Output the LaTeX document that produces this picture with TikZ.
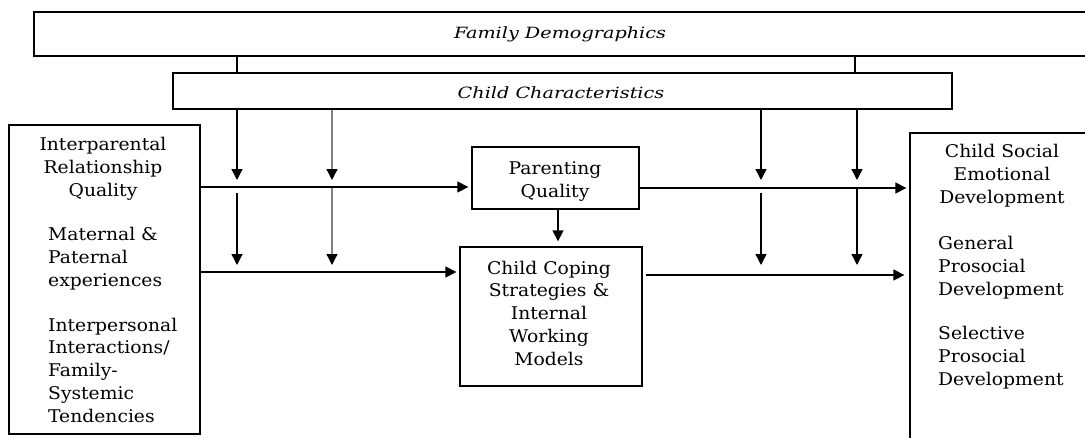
\documentclass[tikz,border=0pt]{standalone}
\usepackage{fontspec}
\setmainfont{DejaVu Serif}[FakeStretch=1.07]
\newfontfamily\wideit{DejaVu Serif}[FakeStretch=1.24]
\usetikzlibrary{arrows.meta}
\definecolor{lightline}{RGB}{128,128,128}
\begin{document}
\begin{tikzpicture}[x=1pt,y=-1pt,
  box/.style={draw, line width=1.3pt, inner sep=0pt, rectangle},
  conn/.style={line width=1.3pt},
  arr/.style={line width=1.3pt, -{Triangle[width=11pt,length=11pt]}},
  grayarr/.style={line width=1.3pt, lightline, -{Triangle[width=11pt,length=11pt,color=black]}},
  txt/.style={inner sep=0pt, anchor=base, font=\fontsize{17.5}{22.7}\selectfont},
  ittxt/.style={inner sep=0pt, anchor=base, font=\wideit\itshape\fontsize{15.5}{18}\selectfont}]
\useasboundingbox (0,0) rectangle (1085,437);
\fill[white] (0,0) rectangle (1085,437);
% boxes
\node[box, minimum width=1066pt, minimum height=44pt] (fam) at (567,34) {};
\node[box, minimum width=779pt, minimum height=36pt] (child) at (562.5,91) {};
\node[box, minimum width=191pt, minimum height=309pt] (left) at (104.5,279.5) {};
\node[box, minimum width=167pt, minimum height=62pt] (par) at (555.5,178) {};
\node[box, minimum width=182pt, minimum height=139pt] (cope) at (551,316.5) {};
\node[box, minimum width=190pt, minimum height=317pt] (outb) at (1005,291.5) {};
% texts (anchored at the baseline of the last line)
\node[ittxt] (famt) at (560,38) {Family Demographics};
\node[ittxt] (childt) at (561,98) {Child Characteristics};
\node[txt, align=center] (l1) at (103,196) {Interparental\\Relationship\\Quality};
\node[txt, align=left, anchor=base west] (l2) at (48,286) {Maternal \&\\Paternal\\experiences};
\node[txt, align=left, anchor=base west] (l3) at (48,422) {Interpersonal\\Interactions/\\Family-\\Systemic\\Tendencies};
\node[txt, align=center] (pt) at (555,197) {Parenting\\Quality};
\node[txt, align=center] (ct) at (549,365) {Child Coping\\Strategies \&\\Internal\\Working\\Models};
\node[txt, align=center] (o1) at (1002,203) {Child Social\\Emotional\\Development};
\node[txt, align=left, anchor=base west] (o2) at (938,295) {General\\Prosocial\\Development};
\node[txt, align=left, anchor=base west] (o3) at (938,385) {Selective\\Prosocial\\Development};
% reference coordinates
\coordinate (xa) at (237,0);
\coordinate (xb) at (332,0);
\coordinate (xc) at (761,0);
\coordinate (xd) at (857,0);
\coordinate (xe) at (855,0);
\coordinate (xp) at (558,0);
\coordinate (ya) at (0,180);
\coordinate (yb) at (0,193);
\coordinate (ybg) at (0,188);
\coordinate (yc) at (0,265);
\coordinate (r1) at (0,187);
\coordinate (r2) at (0,188);
\coordinate (r3) at (0,272);
\coordinate (r4) at (0,275);
% family to child
\draw[conn] (xa |- fam.south) -- (xa |- child.north);
\draw[conn] (xe |- fam.south) -- (xe |- child.north);
% moderator arrows, first set
\draw[arr] (xa |- child.south) -- (xa |- ya);
\draw[grayarr] (xb |- child.south) -- (xb |- ya);
\draw[arr] (xc |- child.south) -- (xc |- ya);
\draw[arr] (xd |- child.south) -- (xd |- ya);
% moderator arrows, second set
\draw[arr] (xa |- yb) -- (xa |- yc);
\draw[grayarr] (xb |- ybg) -- (xb |- yc);
\draw[arr] (xc |- yb) -- (xc |- yc);
\draw[arr] (xd |- ybg) -- (xd |- yc);
% main paths
\draw[arr, shorten >=3pt] (left.east |- r1) -- (par.west |- r1);
\draw[arr, shorten >=3pt] (par.east |- r2) -- (outb.west |- r2);
\draw[arr, shorten >=3pt] (left.east |- r3) -- (cope.west |- r3);
\draw[arr, shorten >=5pt, shorten <=3pt] (cope.east |- r4) -- (outb.west |- r4);
\draw[arr, shorten >=5pt] (xp |- par.south) -- (xp |- cope.north);
\end{tikzpicture}
\end{document}
